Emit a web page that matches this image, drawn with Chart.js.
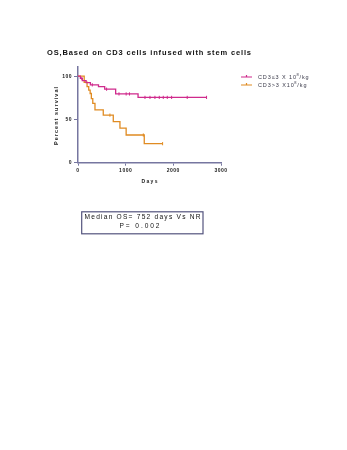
<!DOCTYPE html>
<html>
<head>
<meta charset="utf-8">
<script src="https://cdn.jsdelivr.net/npm/chart.js@4.4.1/dist/chart.umd.min.js"></script>
<style>
  html, body { margin: 0; padding: 0; background: #fff; }
</style>
</head>
<body>
<canvas id="km" width="347" height="450"></canvas>
<script>
// Kaplan-Meier steps: day of drop -> percent surviving after it
const lowDays = [0, 50, 90, 170, 260, 430, 560, 790, 1260, 2700];
const lowSurv = [100, 97.5, 95, 92.5, 90, 88, 85, 79.5, 75.5, 75.5];
const highDays = [0, 130, 190, 225, 255, 280, 310, 356, 530, 740, 880, 1010, 1390, 1775];
const highSurv = [100, 93, 88, 84, 80, 74, 68.5, 61, 55, 47.5, 40, 32, 22, 22];

// censored patients
const lowCensorDays = [80, 300, 600, 860, 1010, 1080, 1405, 1510, 1614, 1705, 1789, 1873, 1964, 2291, 2697];
const lowCensorSurv = [97.5, 90, 85, 79.5, 79.5, 79.5, 75.5, 75.5, 75.5, 75.5, 75.5, 75.5, 75.5, 75.5, 75.5];
const highCensorDays = [670, 1370, 1775];
const highCensorSurv = [55, 32, 22];

const yTicks = [0, 50, 100];
const xTicks = [0, 1000, 2000, 3000];

const MAGENTA = '#cf2a8c';
const ORANGE = '#e08b22';
const AXIS = '#7676a0';
const FONT = '"Liberation Sans", Arial, sans-serif';

const pts = (xs, ys) => xs.map((x, i) => ({ x: x, y: ys[i] }));

// text stretched with letter spacing to cover a given width
function fitText(ctx, str, x, y, width, font, color, align) {
  ctx.save();
  ctx.font = font;
  ctx.fillStyle = color;
  ctx.textBaseline = 'middle';
  ctx.textAlign = 'left';
  ctx.letterSpacing = '0px';
  const w = ctx.measureText(str).width;
  const sp = str.length > 1 ? (width - w) / (str.length - 1) : 0;
  ctx.letterSpacing = sp + 'px';
  const x0 = align === 'center' ? x - width / 2 : x;
  ctx.fillText(str, x0, y);
  ctx.restore();
}

const extras = {
  id: 'extras',
  beforeDraw(chart) {
    chart.ctx.letterSpacing = '0.5px';
  },
  afterDraw(chart) {
    const ctx = chart.ctx;
    // title
    fitText(ctx, 'OS,Based on CD3 cells infused with stem cells', 47, 53, 204, 'bold 7.5px ' + FONT, '#111');
    // axis titles
    fitText(ctx, 'Days', 149.5, 182, 16, 'bold 5px ' + FONT, '#222', 'center');
    ctx.save();
    ctx.translate(56, 116);
    ctx.rotate(-Math.PI / 2);
    fitText(ctx, 'Percent survival', 0, 0, 58, 'bold 5.5px ' + FONT, '#222', 'center');
    ctx.restore();

    // legend
    const rows = [
      { color: MAGENTA, y: 77, pre: 'CD3\u22643 X 10', post: '/kg' },
      { color: ORANGE, y: 85, pre: 'CD3>3 X10', post: '/kg' }
    ];
    rows.forEach(r => {
      ctx.save();
      ctx.strokeStyle = r.color;
      ctx.lineWidth = 1.2;
      ctx.beginPath();
      ctx.moveTo(241, r.y); ctx.lineTo(252, r.y);
      ctx.moveTo(246.5, r.y - 2); ctx.lineTo(246.5, r.y);
      ctx.stroke();
      ctx.fillStyle = '#3a3a4a';
      ctx.textBaseline = 'middle';
      ctx.font = '5.5px ' + FONT;
      ctx.letterSpacing = '0.9px';
      let x = 258;
      ctx.fillText(r.pre, x, r.y);
      x += ctx.measureText(r.pre).width;
      ctx.font = '4px ' + FONT;
      ctx.fillText('8', x - 0.5, r.y - 2.4);
      x += ctx.measureText('8').width;
      ctx.font = '5.5px ' + FONT;
      ctx.fillText(r.post, x - 0.5, r.y);
      ctx.restore();
    });

    // annotation box
    ctx.save();
    ctx.strokeStyle = '#54547e';
    ctx.lineWidth = 1.2;
    ctx.strokeRect(81.7, 211.8, 121.3, 22);
    ctx.restore();
    fitText(ctx, 'Median OS= 752 days Vs NR', 142.5, 217, 116, '6.6px ' + FONT, '#111', 'center');
    fitText(ctx, 'P= 0.002', 139.5, 226.2, 40, '6.6px ' + FONT, '#111', 'center');
  }
};

Chart.defaults.font.family = FONT;

new Chart(document.getElementById('km').getContext('2d'), {
  type: 'line',
  data: {
    datasets: [
      {
        label: 'CD3\u22643 X 10^8/kg',
        data: pts(lowDays, lowSurv),
        borderColor: MAGENTA,
        borderWidth: 1.3,
        stepped: 'before',
        pointRadius: 0,
        fill: false
      },
      {
        label: 'CD3>3 X10^8/kg',
        data: pts(highDays, highSurv),
        borderColor: ORANGE,
        borderWidth: 1.3,
        stepped: 'before',
        pointRadius: 0,
        fill: false
      },
      {
        label: 'censored low',
        data: pts(lowCensorDays, lowCensorSurv),
        showLine: false,
        pointStyle: 'line',
        rotation: 90,
        pointRadius: 1.6,
        borderColor: MAGENTA,
        borderWidth: 1
      },
      {
        label: 'censored high',
        data: pts(highCensorDays, highCensorSurv),
        showLine: false,
        pointStyle: 'line',
        rotation: 90,
        pointRadius: 1.6,
        borderColor: ORANGE,
        borderWidth: 1
      }
    ]
  },
  options: {
    responsive: false,
    animation: false,
    layout: { padding: { left: 0, top: 66.7, right: 126, bottom: 0 } },
    plugins: {
      legend: { display: false },
      tooltip: { enabled: false }
    },
    scales: {
      x: {
        type: 'linear',
        min: 0,
        max: 3000,
        afterFit(scale) { scale.height = 287.3; },
        afterBuildTicks(scale) { scale.ticks = xTicks.map(v => ({ value: v })); },
        ticks: {
          font: { size: 5, weight: 'bold' },
          color: '#222',
          padding: 2,
          maxRotation: 0,
          callback: v => String(v)
        },
        grid: { drawOnChartArea: false, drawTicks: true, tickLength: 3, color: AXIS, lineWidth: 1 },
        border: { color: AXIS, width: 1.5 }
      },
      y: {
        min: 0,
        max: 111,
        afterFit(scale) { scale.width = 78; },
        afterBuildTicks(scale) { scale.ticks = yTicks.map(v => ({ value: v })); },
        ticks: { font: { size: 5, weight: 'bold' }, color: '#222', padding: 2, callback: v => String(v) },
        grid: { drawOnChartArea: false, drawTicks: true, tickLength: 4, color: AXIS, lineWidth: 1 },
        border: { color: AXIS, width: 1.5 }
      }
    }
  },
  plugins: [extras]
});
</script>
</body>
</html>
